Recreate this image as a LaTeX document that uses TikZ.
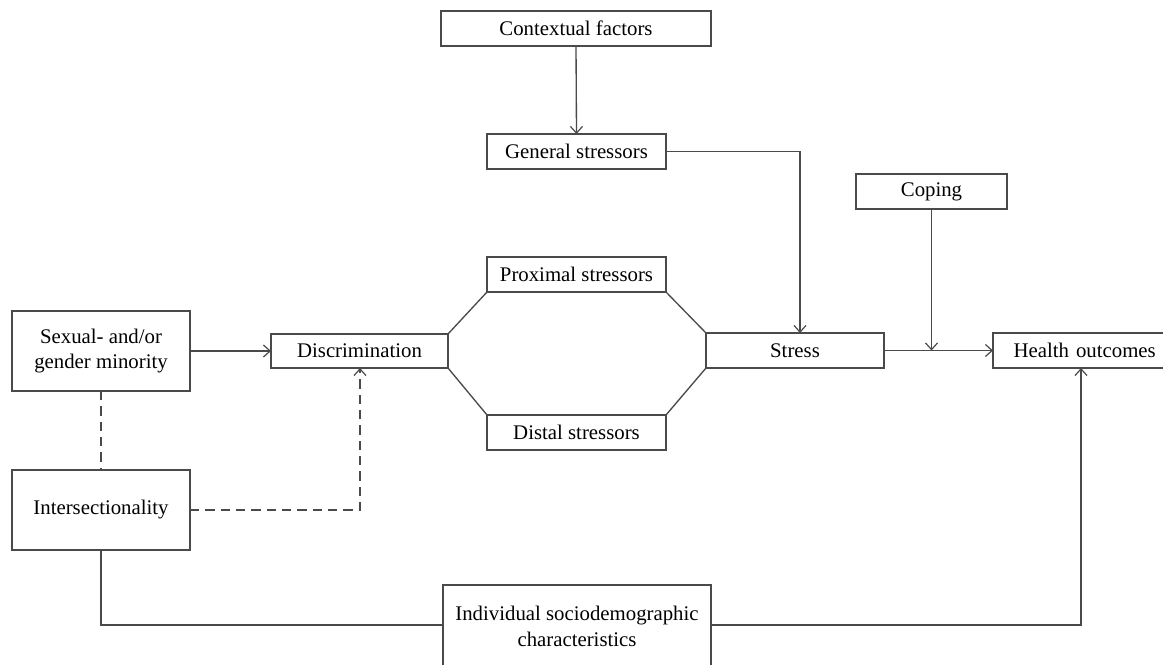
\documentclass[tikz,border=0pt]{standalone}
\usepackage{fontspec}
\setmainfont{Liberation Serif}
\usetikzlibrary{arrows.meta}
\definecolor{linegray}{HTML}{4A4A4A}
\begin{document}
\begin{tikzpicture}[x=0.75pt,y=-0.75pt,
  box/.style={draw=linegray,line width=1pt,inner sep=0pt,outer sep=0pt,align=center,
    font=\fontsize{15.6}{18}\selectfont,fill=white},
  conn/.style={draw=linegray,line width=1pt},
  arr/.style={conn,-{Straight Barb[length=5pt,width=9pt,line width=0.9pt]}},
  dashconn/.style={conn,dash pattern=on 7pt off 4.5pt}]
\useasboundingbox (0,0) rectangle (1163,664);
\node[box,minimum width=270*0.75pt,minimum height=35*0.75pt] (ctx) at (576,28.5) {Contextual factors};
\node[box,minimum width=179*0.75pt,minimum height=35*0.75pt] (gen) at (576.5,151.5) {General stressors};
\node[box,minimum width=151*0.75pt,minimum height=35*0.75pt] (cop) at (931.5,191.5) {Coping};
\node[box,minimum width=179*0.75pt,minimum height=35*0.75pt] (prox) at (576.5,274.5) {Proximal stressors};
\node[box,minimum width=179*0.75pt,minimum height=35*0.75pt] (dist) at (576.5,432.5) {Distal stressors};
\node[box,minimum width=178*0.75pt,minimum height=80*0.75pt,font=\fontsize{15.6}{18.5}\selectfont] (sgm) at (101,351) {Sexual- and/or\\gender minority};
\node[box,minimum width=177*0.75pt,minimum height=34*0.75pt] (disc) at (359.5,351) {Discrimination};
\node[box,minimum width=178*0.75pt,minimum height=35*0.75pt] (str) at (795,350.5) {Stress};
\node[box,minimum width=174*0.75pt,minimum height=35*0.75pt,text width=170*0.75pt,align=left] (hea) at (1080,350.5) {\hspace*{14pt}Health outcomes};
\node[box,minimum width=178*0.75pt,minimum height=80*0.75pt] (int) at (101,510) {Intersectionality};
\node[box,minimum width=268*0.75pt,minimum height=82*0.75pt,font=\fontsize{15.6}{19.5}\selectfont] (ind) at (577,626) {Individual sociodemographic\\characteristics};
\coordinate (gs) at (800,151.5);
\coordinate (cj) at (931.5,350.5);
\coordinate (dc) at (360,510);
\coordinate (il) at (101,625);
\coordinate (ir) at (1081,625);
% arrows
\draw[arr] (ctx.south) -- (gen.north);
\draw[arr] (gen.east) -- (gs) -- (gs |- str.north);
\draw[arr] (cop.south) -- (cj);
\draw[arr] (str.east) -- (hea.west);
\draw[arr] (sgm.east) -- (disc.west);
\draw[dashconn] (sgm.south) -- (int.north);
\draw[dashconn,-{Straight Barb[length=5pt,width=9pt,line width=0.9pt]}] (int.east) -- (dc) -- (dc |- disc.south);
% stressor branches
\draw[conn] (disc.north east) -- (prox.south west);
\draw[conn] (disc.south east) -- (dist.north west);
\draw[conn] (prox.south east) -- (str.north west);
\draw[conn] (dist.north east) -- (str.south west);
% bottom
\draw[conn] (int.south) -- (il) -- (il -| ind.west);
\draw[arr] (ind.east |- ir) -- (ir) -- (ir |- hea.south);
\end{tikzpicture}
\end{document}
